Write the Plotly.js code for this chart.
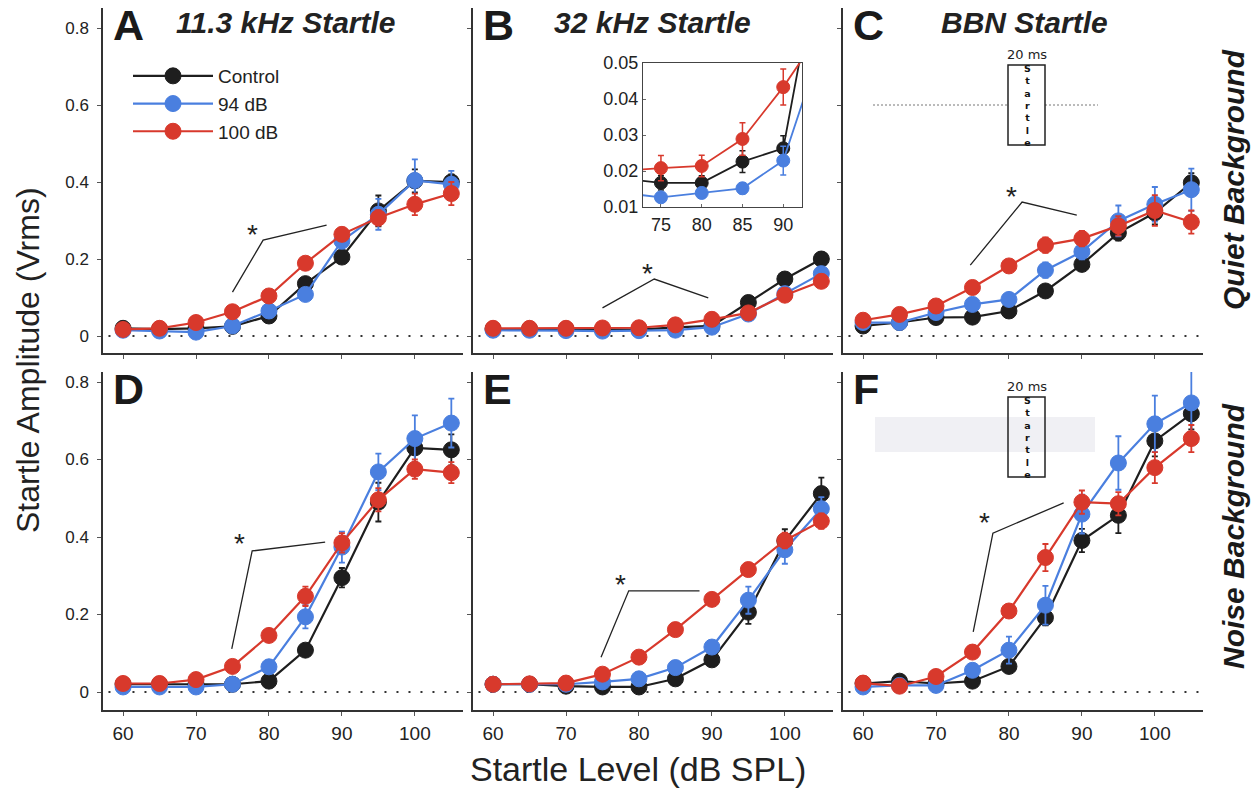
<!DOCTYPE html>
<html>
<head>
<meta charset="utf-8">
<script src="https://cdn.plot.ly/plotly-3.0.1.min.js"></script>
<style>html,body{margin:0;padding:0;background:#fff;}#chart{width:1255px;height:792px;}</style>
</head>
<body>
<div id="chart"></div>
<script>
// ---------- DATA ----------
const levels = [60, 65, 70, 75, 80, 85, 90, 95, 100, 105];
const groupNames = ["Control", "94 dB", "100 dB"];
const xTickVals = [60, 70, 80, 90, 100];
const yTickVals = [0, 0.2, 0.4, 0.6, 0.8];
const yTickText = ["0", "0.2", "0.4", "0.6", "0.8"];
const insetXTicks = [75, 80, 85, 90];
const insetYTicks = [0.01, 0.02, 0.03, 0.04, 0.05];
const insetYText = ["0.01", "0.02", "0.03", "0.04", "0.05"];
const panelLetters = ["A", "B", "C", "D", "E", "F"];
const panelTitles = ["11.3 kHz Startle", "32 kHz Startle", "BBN Startle"];
const rowLabels = ["Quiet Background", "Noise Background"];

// Panel A: 11.3 kHz, quiet
const ctrlA = [0.020, 0.018, 0.020, 0.025, 0.052, 0.136, 0.205, 0.325, 0.403, 0.400];
const ctrlA_err = [0.005, 0.004, 0.004, 0.005, 0.008, 0.012, 0.015, 0.040, 0.030, 0.020];
const db94A = [0.015, 0.013, 0.010, 0.026, 0.065, 0.108, 0.247, 0.316, 0.404, 0.394];
const db94A_err = [0.004, 0.004, 0.003, 0.006, 0.010, 0.012, 0.020, 0.040, 0.055, 0.035];
const db100A = [0.017, 0.020, 0.035, 0.063, 0.104, 0.189, 0.264, 0.307, 0.342, 0.370];
const db100A_err = [0.004, 0.004, 0.006, 0.008, 0.010, 0.012, 0.015, 0.020, 0.028, 0.030];

// Panel B: 32 kHz, quiet
const ctrlB = [0.018, 0.018, 0.018, 0.0167, 0.0167, 0.0226, 0.0263, 0.087, 0.148, 0.200];
const ctrlB_err = [0.002, 0.002, 0.002, 0.002, 0.002, 0.003, 0.0035, 0.010, 0.012, 0.018];
const db94B = [0.015, 0.015, 0.014, 0.0127, 0.0139, 0.0152, 0.0229, 0.057, 0.110, 0.162];
const db94B_err = [0.001, 0.001, 0.001, 0.001, 0.0015, 0.0015, 0.004, 0.008, 0.012, 0.015];
const db100B = [0.020, 0.020, 0.020, 0.0208, 0.0214, 0.0289, 0.0433, 0.060, 0.106, 0.142];
const db100B_err = [0.002, 0.002, 0.002, 0.0035, 0.003, 0.0045, 0.005, 0.008, 0.010, 0.012];

// Panel C: BBN, quiet
const ctrlC = [0.026, 0.035, 0.048, 0.049, 0.065, 0.117, 0.186, 0.268, 0.320, 0.398];
const ctrlC_err = [0.004, 0.005, 0.006, 0.006, 0.008, 0.010, 0.015, 0.020, 0.030, 0.025];
const db94C = [0.035, 0.035, 0.061, 0.082, 0.095, 0.171, 0.219, 0.299, 0.342, 0.380];
const db94C_err = [0.005, 0.005, 0.006, 0.010, 0.010, 0.020, 0.020, 0.040, 0.045, 0.055];
const db100C = [0.041, 0.056, 0.078, 0.126, 0.182, 0.236, 0.253, 0.286, 0.326, 0.296];
const db100C_err = [0.005, 0.006, 0.008, 0.010, 0.012, 0.020, 0.020, 0.025, 0.040, 0.030];

// Panel D: 11.3 kHz, noise
const ctrlD = [0.020, 0.020, 0.020, 0.020, 0.028, 0.108, 0.295, 0.490, 0.630, 0.625];
const ctrlD_err = [0.004, 0.004, 0.004, 0.004, 0.006, 0.010, 0.025, 0.050, 0.040, 0.040];
const db94D = [0.013, 0.013, 0.013, 0.020, 0.065, 0.194, 0.374, 0.568, 0.654, 0.694];
const db94D_err = [0.003, 0.003, 0.003, 0.005, 0.010, 0.030, 0.040, 0.047, 0.060, 0.063];
const db100D = [0.022, 0.022, 0.032, 0.066, 0.146, 0.247, 0.385, 0.496, 0.575, 0.566];
const db100D_err = [0.004, 0.004, 0.006, 0.010, 0.012, 0.025, 0.025, 0.030, 0.025, 0.027];

// Panel E: 32 kHz, noise
const ctrlE = [0.020, 0.020, 0.015, 0.013, 0.013, 0.034, 0.083, 0.206, 0.390, 0.512];
const ctrlE_err = [0.003, 0.003, 0.003, 0.003, 0.004, 0.006, 0.010, 0.030, 0.030, 0.041];
const db94E = [0.020, 0.020, 0.020, 0.026, 0.034, 0.063, 0.116, 0.237, 0.367, 0.473];
const db94E_err = [0.003, 0.003, 0.003, 0.004, 0.005, 0.008, 0.012, 0.035, 0.036, 0.030];
const db100E = [0.020, 0.021, 0.023, 0.046, 0.090, 0.161, 0.239, 0.316, 0.391, 0.441];
const db100E_err = [0.003, 0.003, 0.004, 0.006, 0.008, 0.010, 0.015, 0.015, 0.020, 0.020];

// Panel F: BBN, noise
const ctrlF = [0.022, 0.028, 0.022, 0.028, 0.066, 0.192, 0.391, 0.456, 0.648, 0.718];
const ctrlF_err = [0.004, 0.005, 0.004, 0.005, 0.010, 0.020, 0.030, 0.046, 0.040, 0.040];
const db94F = [0.013, 0.017, 0.017, 0.056, 0.108, 0.224, 0.459, 0.591, 0.692, 0.746];
const db94F_err = [0.003, 0.003, 0.003, 0.010, 0.035, 0.050, 0.050, 0.069, 0.073, 0.089];
const db100F = [0.023, 0.015, 0.040, 0.103, 0.209, 0.347, 0.490, 0.486, 0.579, 0.654];
const db100F_err = [0.004, 0.004, 0.006, 0.010, 0.012, 0.035, 0.030, 0.030, 0.040, 0.035];

// significance brackets (x in dB, y in Vrms) and asterisk positions
const bracketX = [[75.0, 79.2, 87.9], [75.0, 82.1, 89.5], [74.7, 81.8, 89.3], [74.9, 77.7, 87.7], [74.8, 78.6, 88.3], [75.1, 77.8, 87.5]];
const bracketY = [[0.114, 0.249, 0.288], [0.073, 0.148, 0.099], [0.184, 0.348, 0.314], [0.111, 0.364, 0.387], [0.090, 0.261, 0.261], [0.155, 0.410, 0.488]];
const starX = [77.8, 81.2, 80.4, 76.0, 77.5, 76.6];
const starY = [0.280, 0.179, 0.379, 0.400, 0.294, 0.452];

// ---------- STYLE ----------
const W = 1255, H = 792;
const colors = ["#1e1e1e", "#4a7fdf", "#d8392c"];
const FONT = "Liberation Sans, Arial, Helvetica, sans-serif";
const px = v => v / W;
const py = v => 1 - v / H;

const panels = [
  {c: ctrlA, ce: ctrlA_err, b: db94A, be: db94A_err, r: db100A, re: db100A_err},
  {c: ctrlB, ce: ctrlB_err, b: db94B, be: db94B_err, r: db100B, re: db100B_err},
  {c: ctrlC, ce: ctrlC_err, b: db94C, be: db94C_err, r: db100C, re: db100C_err},
  {c: ctrlD, ce: ctrlD_err, b: db94D, be: db94D_err, r: db100D, re: db100D_err},
  {c: ctrlE, ce: ctrlE_err, b: db94E, be: db94E_err, r: db100E, re: db100E_err},
  {c: ctrlF, ce: ctrlF_err, b: db94F, be: db94F_err, r: db100F, re: db100F_err}
];

const colLeft = [103, 473, 843];
const colW = 360;
const rows = [{top: 8, bottom: 353, zero: 336, per: 385}, {top: 372, bottom: 710, zero: 692, per: 387.5}];
const xRange = [57.25, 106.6];

const traces = [];
const layout = {
  width: W, height: H,
  margin: {l: 0, r: 0, t: 0, b: 0},
  paper_bgcolor: "#fff", plot_bgcolor: "rgba(0,0,0,0)",
  font: {family: FONT, color: "#222"},
  showlegend: true,
  legend: {
    x: px(128), y: py(57), xanchor: "left", yanchor: "top",
    bgcolor: "rgba(0,0,0,0)", font: {size: 19, family: FONT, color: "#222"},
    itemwidth: 80, tracegroupgap: 0, traceorder: "normal"
  },
  shapes: [], annotations: []
};

function markerTrace(x, y, err, gi, xa, ya, showleg) {
  return {
    x: x, y: y, type: "scatter", mode: "lines+markers",
    name: groupNames[gi], legendgroup: groupNames[gi], showlegend: showleg,
    xaxis: xa, yaxis: ya,
    line: {color: colors[gi], width: 2.2},
    marker: {color: colors[gi], size: 16, line: {color: colors[gi], width: 1}},
    error_y: {type: "data", array: err, visible: true, color: colors[gi], thickness: 1.8, width: 3},
    cliponaxis: true
  };
}

for (let p = 0; p < 6; p++) {
  const col = p % 3, row = Math.floor(p / 3);
  const idx = p + 1;
  const xa = "x" + (idx === 1 ? "" : idx), ya = "y" + (idx === 1 ? "" : idx);
  const xKey = "xaxis" + (idx === 1 ? "" : idx), yKey = "yaxis" + (idx === 1 ? "" : idx);
  const R = rows[row];
  const d = panels[p];
  traces.push(markerTrace(levels, d.c, d.ce, 0, xa, ya, p === 0));
  traces.push(markerTrace(levels, d.b, d.be, 1, xa, ya, p === 0));
  traces.push(markerTrace(levels, d.r, d.re, 2, xa, ya, p === 0));

  layout[xKey] = {
    domain: [px(colLeft[col]), px(colLeft[col] + colW)], anchor: ya,
    range: xRange, showline: true, linecolor: "#333", linewidth: 1.6,
    ticks: "outside", ticklen: 4, tickwidth: 1, tickcolor: "#555",
    tickvals: xTickVals, showticklabels: row === 1,
    tickfont: {size: 19, family: FONT, color: "#222"}, ticklabelstandoff: 2,
    showgrid: false, zeroline: false, fixedrange: true
  };
  layout[yKey] = {
    domain: [py(R.bottom), py(R.top)], anchor: xa,
    range: [-(R.bottom - R.zero) / R.per, (R.zero - R.top) / R.per],
    showline: true, linecolor: "#333", linewidth: 1.6,
    ticks: "outside", ticklen: 4, tickwidth: 1, tickcolor: "#555",
    tickvals: yTickVals, ticktext: yTickText, showticklabels: col === 0,
    tickfont: {size: 17, family: FONT, color: "#222"}, ticklabelstandoff: 5,
    showgrid: false, zeroline: false, fixedrange: true
  };

  // dotted zero line
  layout.shapes.push({type: "line", xref: xa, yref: ya, x0: 58, x1: 106.4, y0: 0, y1: 0,
    line: {color: "#333", width: 2, dash: "2px,10px"}, layer: "below"});
  // significance bracket
  const bx = bracketX[p], by = bracketY[p];
  layout.shapes.push({type: "path", xref: xa, yref: ya,
    path: `M${bx[0]},${by[0]} L${bx[1]},${by[1]} L${bx[2]},${by[2]}`,
    line: {color: "#222", width: 1.3}});
  layout.annotations.push({xref: xa, yref: ya, x: starX[p], y: starY[p], text: "*",
    showarrow: false, font: {size: 28, family: FONT, color: "#222"}, yshift: -6});

  // panel letter
  layout.annotations.push({xref: "paper", yref: "paper", x: px(colLeft[col] + 8), y: py(R.top + 17),
    xanchor: "left", yanchor: "middle", text: "<b>" + panelLetters[p] + "</b>", showarrow: false,
    font: {size: 43, family: FONT, color: "#1a1a1a"}});
}

// column titles
const titleCenters = [286, 652, 1024];
for (let c = 0; c < 3; c++) {
  layout.annotations.push({xref: "paper", yref: "paper", x: px(titleCenters[c]), y: py(22),
    xanchor: "center", yanchor: "middle", text: "<b><i>" + panelTitles[c] + "</i></b>", showarrow: false,
    font: {size: 30, family: FONT, color: "#222"}});
}
// row labels
layout.annotations.push({xref: "paper", yref: "paper", x: px(1233), y: py(180), textangle: -90,
  xanchor: "center", yanchor: "middle", text: "<b><i>" + rowLabels[0] + "</i></b>", showarrow: false,
  font: {size: 30, family: FONT, color: "#1a1a1a"}});
layout.annotations.push({xref: "paper", yref: "paper", x: px(1233), y: py(536), textangle: -90,
  xanchor: "center", yanchor: "middle", text: "<b><i>" + rowLabels[1] + "</i></b>", showarrow: false,
  font: {size: 30, family: FONT, color: "#1a1a1a"}});
// axis titles
layout.annotations.push({xref: "paper", yref: "paper", x: px(28), y: py(360), textangle: -90,
  xanchor: "center", yanchor: "middle", text: "Startle Amplitude (Vrms)", showarrow: false,
  font: {size: 32, family: FONT, color: "#222"}});
layout.annotations.push({xref: "paper", yref: "paper", x: px(638), y: py(769),
  xanchor: "center", yanchor: "middle", text: "Startle Level (dB SPL)", showarrow: false,
  font: {size: 34, family: FONT, color: "#222"}});

// stimulus schematics in C and F
const schem = [{boxTop: 65, boxBot: 145, lblY: 55}, {boxTop: 397, boxBot: 477, lblY: 386}];
schem.forEach((s, i) => {
  if (i === 0) {
    layout.shapes.push({type: "line", xref: "paper", yref: "paper", x0: px(873), x1: px(1008), y0: py(105), y1: py(105), line: {color: "#777", width: 1, dash: "2px,2px"}});
    layout.shapes.push({type: "line", xref: "paper", yref: "paper", x0: px(1045), x1: px(1098), y0: py(105), y1: py(105), line: {color: "#777", width: 1, dash: "2px,2px"}});
  } else {
    layout.shapes.push({type: "rect", xref: "paper", yref: "paper", x0: px(875), x1: px(1095), y0: py(452), y1: py(417), fillcolor: "rgba(140,140,170,0.13)", line: {width: 0}, layer: "below"});
  }
  layout.shapes.push({type: "rect", xref: "paper", yref: "paper", x0: px(1008), x1: px(1045), y0: py(s.boxBot), y1: py(s.boxTop), line: {color: "#222", width: 1.5}, fillcolor: "rgba(255,255,255,0)"});
  layout.annotations.push({xref: "paper", yref: "paper", x: px(1027), y: py(s.lblY), text: "20 ms", showarrow: false, xanchor: "center", yanchor: "middle", font: {size: 13, family: "DejaVu Sans, sans-serif", color: "#222"}});
  layout.annotations.push({xref: "paper", yref: "paper", x: px(1027), y: py((s.boxTop + s.boxBot) / 2), text: "<b>" + "Startle".split("").join("<br>") + "</b>", showarrow: false, xanchor: "center", yanchor: "middle", align: "center", font: {size: 9.5, family: "DejaVu Sans, sans-serif", color: "#111"}});
});

// inset in panel B (zoom of 75-90 dB)
const insetData = [[ctrlB, ctrlB_err], [db94B, db94B_err], [db100B, db100B_err]];
insetData.forEach((dd, gi) => {
  const t = markerTrace(levels, dd[0], dd[1], gi, "x7", "y7", false);
  t.marker.size = 13;
  t.line.width = 1.8;
  t.error_y.thickness = 1.5;
  traces.push(t);
});
layout.xaxis7 = {
  domain: [px(643), px(802)], anchor: "y7", range: [72.8, 92.3],
  showline: true, mirror: true, linecolor: "#444", linewidth: 1.2,
  ticks: "inside", ticklen: 3, tickcolor: "#666", tickvals: insetXTicks,
  tickfont: {size: 18, family: FONT, color: "#222"}, ticklabelstandoff: 1,
  showgrid: false, zeroline: false, fixedrange: true
};
layout.yaxis7 = {
  domain: [py(207), py(63)], anchor: "x7", range: [0.01, 0.05],
  showline: true, mirror: true, linecolor: "#444", linewidth: 1.2,
  ticks: "inside", ticklen: 3, tickcolor: "#666", tickvals: insetYTicks,
  ticktext: insetYText,
  tickfont: {size: 18, family: FONT, color: "#222"}, showgrid: false, zeroline: false, fixedrange: true
};

Plotly.newPlot("chart", traces, layout, {displayModeBar: false, staticPlot: true});
</script>
</body>
</html>
